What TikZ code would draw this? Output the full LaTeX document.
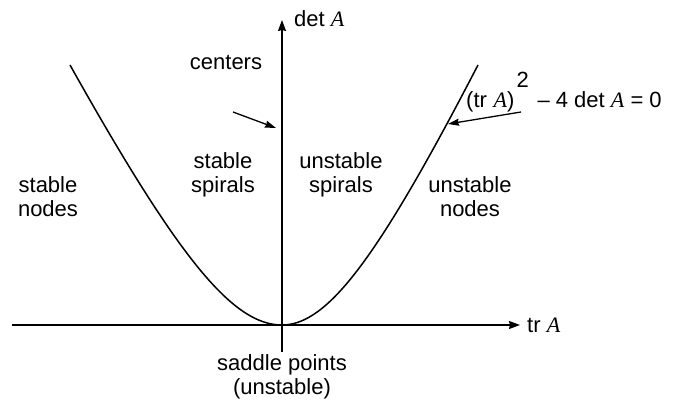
\documentclass[tikz,border=0pt]{standalone}
\usepackage{fontspec}
\setmainfont{Liberation Sans}
\newfontfamily\timesf{Liberation Serif}
\usetikzlibrary{arrows.meta}
\newcommand\itA{{\timesf\itshape A}}
\begin{document}
\begin{tikzpicture}[x=1pt,y=-1pt,
  lbl/.style={font=\fontsize{22}{24}\selectfont, align=center, inner sep=0pt},
  axis/.style={line width=1.5pt, -{Stealth[length=11pt,width=8pt,inset=1pt]}},
  pointer/.style={line width=1.3pt, -{Stealth[length=11pt,width=7pt,inset=1pt]}},
  curve/.style={line width=1.5pt}]
\useasboundingbox (0,0) rectangle (681,406);
% axes
\coordinate (xl) at (12,325);
\coordinate (xr) at (520,325);
\coordinate (yb) at (282,352);
\coordinate (yt) at (282,20);
\draw[axis] (xl) -- (xr);
\draw[axis] (yb) -- (yt);
\node[lbl, anchor=west] (trA) at (527,325) {tr \itA};
\node[lbl, anchor=west] (detA) at (294,19) {det \itA};
% curve (tr A)^2 - 4 det A = 0
\draw[curve]
  plot[domain=70:282, samples=90] (\x, {325-216.6*(sqrt(1+((282-\x)*0.9245/100)^2)-1)})
  -- plot[domain=282:478, samples=90] (\x, {325-216.6*(sqrt(1+((\x-282)/100)^2)-1)});
% region labels
\node[lbl] (centers) at (226,62) {centers};
\node[lbl] (sspir) at (223,175) {stable\\spirals};
\node[lbl] (uspir) at (341,175) {unstable\\spirals};
\node[lbl] (snodes) at (48,197) {stable\\nodes};
\node[lbl] (unodes) at (470,197) {unstable\\nodes};
\node[lbl] (saddle) at (282,377) {saddle points\\(unstable)};
\node[lbl, anchor=base west] (eq) at (466,108)
  {(tr\hspace{0.3em}\itA)\hspace{0.1em}\raisebox{0.95em}{2}\hspace{0.4em}{\textendash} 4 det \itA{} = 0};
% pointers
\coordinate (cstart) at (233,112);
\coordinate (cend) at (276,128);
\draw[pointer] (cstart) -- (cend);
\coordinate (estart) at (521,112);
\coordinate (eend) at (448,124);
\draw[pointer] (estart) -- (eend);
\end{tikzpicture}
\end{document}
